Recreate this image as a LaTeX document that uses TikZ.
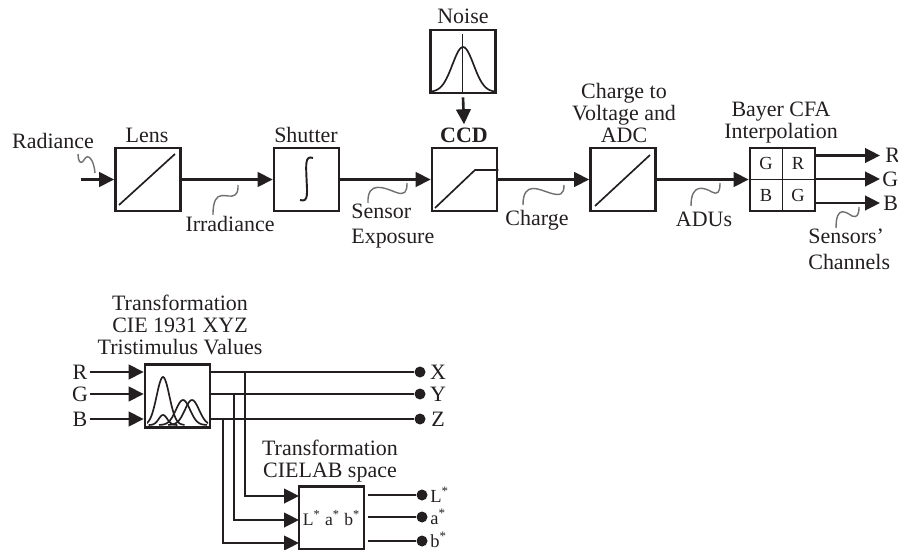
\documentclass[tikz,border=0pt]{standalone}
\usepackage{fontspec}
\setmainfont{Liberation Serif}
\usetikzlibrary{arrows.meta,positioning}
\definecolor{inkc}{HTML}{231F20}
\definecolor{leadc}{HTML}{707070}
\tikzset{
  >={Triangle[length=3mm,width=2.9mm]},
  blk/.style={draw=inkc,line width=1.5pt,fill=white,minimum width=13mm,minimum height=12.6mm,inner sep=0pt},
  lab/.style={font=\fontsize{12.5}{12.5}\selectfont,text=inkc,align=center,inner sep=0pt},
  labw/.style={lab,anchor=west,align=left,font=\fontsize{12.5}{14.6}\selectfont},
  small/.style={font=\fontsize{10.5}{12}\selectfont,text=inkc,inner sep=0pt},
  sig/.style={->,line width=1.5pt,draw=inkc},
  wire/.style={line width=1.5pt,draw=inkc},
  thin/.style={line width=0.95pt,draw=inkc},
  squig/.style={line width=0.8pt,draw=leadc},
  dotn/.style={circle,fill=inkc,inner sep=0pt,minimum size=2.2mm},
}
\newcommand{\blkat}[3]{\node[blk] (#1) at (#2) {#3};}
\newcommand{\bell}[3]{\draw[thin] plot[domain=-#2*2.4:#2*2.4,samples=41,smooth] ({#1+\x},{425-#3*exp(-(\x/#2)^2)});}
\begin{document}
\begin{tikzpicture}[x=0.02cm,y=-0.02cm]
  \useasboundingbox (0,0) rectangle (898,550);
  % top row
  \blkat{lens}{148,179.5}{}
  \blkat{shut}{306.5,179.5}{}
  \blkat{ccd}{464.5,179.5}{}
  \blkat{noise}{463,61.5}{}
  \blkat{adc}{623,179.5}{}
  \blkat{cfa}{782.5,179.5}{}
  \node[lab] (tlens) at (147,135) {Lens};
  \node[lab] (tshut) at (306,135) {Shutter};
  \node[lab] (tnoise) at (463,16) {Noise};
  \node[lab,font=\fontsize{12.5}{12.5}\selectfont\bfseries] (tccd) at (464,135) {CCD};
  \node[lab] (tadc) at (624,113) {Charge to\\Voltage and\\ADC};
  \node[lab] (tcfa) at (781,123) {Bayer CFA\\Interpolation};
  \node[lab] (trad) at (53,141) {Radiance};
  \node[lab] (tirr) at (230,224) {Irradiance};
  \node[labw] (texp) at (351,226) {Sensor\\Exposure};
  \node[lab] (tchg) at (537,220) {Charge};
  \node[lab] (tadu) at (704,219) {ADUs};
  \node[labw] (tchn) at (808,249) {Sensors’\\Channels};
  % block insides
  \draw[thin] (119,205) -- (175,154);
  \draw[thin] (595,206) -- (650,155);
  \draw[thin] (435,208) -- (475,170) -- (ccd.east |- 0,170);
  \draw[line width=1.1pt,draw=inkc] (313,158) .. controls (305,155) and (306,165) .. (306.5,178) .. controls (307,192) and (309,203) .. (300,200);
  \draw[thin] (462.5,34) -- (noise.south -| 462.5,0);
  \draw[thin] plot[domain=-31:31,samples=41,smooth] ({463+\x},{92-45*exp(-(\x/15)^2)});
  \draw[line width=0.6pt,draw=inkc] (cfa.north) -- (cfa.south) (cfa.west) -- (cfa.east);
  \node[small] (cg1) at (766,163) {G};
  \node[small] (cr) at (798,163) {R};
  \node[small] (cb) at (766,195) {B};
  \node[small] (cg2) at (798,195) {G};
  % top row arrows
  \coordinate (rin) at (81,179.5);
  \draw[sig] (rin) -- (lens.west);
  \draw[sig] (lens.east) -- (shut.west);
  \draw[sig] (shut.east) -- (ccd.west);
  \draw[sig] (ccd.east) -- (adc.west);
  \draw[sig] (adc.east) -- (cfa.west);
  \draw[sig] (noise.south) ++(0,3) -- ([yshift=0.06cm]tccd.north);
  \node[labw] (outr) at (885,155.5) {R};
  \node[labw] (outg) at (882,179) {G};
  \node[labw] (outb) at (883,203) {B};
  \draw[sig] (cfa.east |- outr) -- ([xshift=-0.1cm]outr.west);
  \draw[sig] (cfa.east |- outg) -- ([xshift=-0.04cm]outg.west);
  \draw[sig] (cfa.east |- outb) -- ([xshift=-0.06cm]outb.west);
  % leaders
  \draw[squig] (78,154) .. controls (78,160) and (80,166) .. (84,160) .. controls (88,152) and (94,160) .. (95,173);
  \draw[squig] (213,215) .. controls (213,185) and (228,200) .. (235,195) .. controls (238,192) and (238,190) .. (238,185);
  \draw[squig] (368,203) .. controls (367,180) and (385,188) .. (395,192) .. controls (405,196) and (407,192) .. (407,183);
  \draw[squig] (523,205) .. controls (523,180) and (540,190) .. (550,193) .. controls (560,196) and (564,195) .. (564,185);
  \draw[squig] (691,206) .. controls (691,182) and (705,188) .. (712,192) .. controls (718,195) and (720,192) .. (720,183);
  \draw[squig] (836,228) .. controls (836,205) and (846,212) .. (852,216) .. controls (857,218) and (859,215) .. (859,207);
  % second row
  \blkat{xyz}{177.5,396}{}
  \blkat{cie}{331.5,518}{}
  \node[lab] (txyz) at (180,325) {Transformation\\CIE 1931 XYZ\\Tristimulus Values};
  \node[lab] (tcie) at (330,461.5) {Transformation\\CIELAB space};
  \node[small,font=\fontsize{10}{12}\selectfont] (tlab) at (331.5,518) {L\textsuperscript{*} a\textsuperscript{*} b\textsuperscript{*}};
  \begin{scope}
    \clip (147,367) rectangle (208,425);
    \bell{163}{9}{48}
    \bell{163}{6}{10}
    \bell{183}{10}{25}
    \bell{192}{10}{25}
  \end{scope}
  \node[lab] (ir) at (80,372) {R};
  \node[lab] (ig) at (80,394) {G};
  \node[lab] (ib) at (80,419) {B};
  \draw[sig] (ir.east) ++(2,0) -- (ir.east -| xyz.west);
  \draw[sig] (ig.east) ++(2,0) -- (ig.east -| xyz.west);
  \draw[sig] (ib.east) ++(2,0) -- (ib.east -| xyz.west);
  \node[dotn] (dx) at (420,372) {};
  \node[dotn] (dy) at (420,394) {};
  \node[dotn] (dz) at (420,419) {};
  \node[lab] (ox) at (438,372) {X};
  \node[lab] (oy) at (438,394) {Y};
  \node[lab] (oz) at (438,419) {Z};
  \draw[wire] (xyz.east |- dx) -- (dx);
  \draw[wire] (xyz.east |- dy) -- (dy);
  \draw[wire] (xyz.east |- dz) -- (dz);
  \coordinate (tapx) at (245,372);
  \coordinate (tapy) at (234,394);
  \coordinate (tapz) at (223,419);
  \coordinate (inl) at (299,496);
  \coordinate (ina) at (299,520);
  \coordinate (inb) at (299,543);
  \draw[sig] (tapx) |- (inl);
  \draw[sig] (tapy) |- (ina);
  \draw[sig] (tapz) |- (inb);
  \node[dotn] (dl) at (422,495) {};
  \node[dotn] (da) at (422,517) {};
  \node[dotn] (db) at (422,541) {};
  \node[small,anchor=west] (ol) at (430,495) {L\textsuperscript{*}};
  \node[small,anchor=west] (oa) at (430,517) {a\textsuperscript{*}};
  \node[small,anchor=west] (ob) at (430,540) {b\textsuperscript{*}};
  \draw[wire] (368,495) -- (dl);
  \draw[wire] (368,517) -- (da);
  \draw[wire] (368,541) -- (db);
\end{tikzpicture}
\end{document}
